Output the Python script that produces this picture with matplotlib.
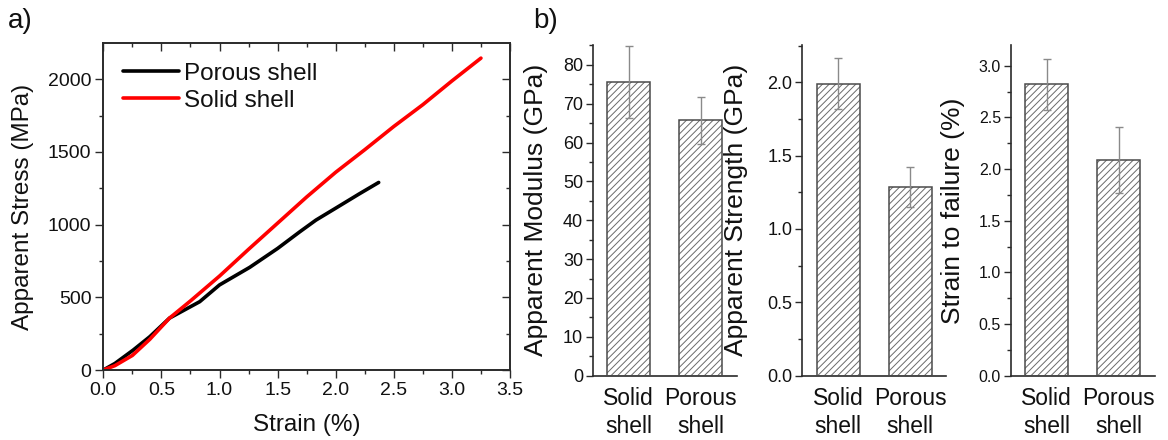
import matplotlib
matplotlib.use("Agg")
import matplotlib.pyplot as plt
from matplotlib.ticker import MultipleLocator, FormatStrFormatter
import numpy as np

plt.rcParams['font.family'] = ['Liberation Sans', 'DejaVu Sans']
plt.rcParams['hatch.linewidth'] = 0.7

# ---- Panel a data: stress-strain curves ----
porous_strain = [0.0, 0.1, 0.257, 0.4, 0.57, 0.83, 1.0, 1.26, 1.5, 1.69, 1.83, 2.0, 2.2, 2.37]
porous_stress = [0, 45, 137, 229, 357, 470, 585, 706, 836, 950, 1031, 1113, 1210, 1290]
solid_strain = [0.0, 0.1, 0.25, 0.4, 0.57, 0.75, 1.0, 1.25, 1.5, 1.75, 2.0, 2.25, 2.5, 2.75, 3.0, 3.25]
solid_stress = [0, 30, 100, 211, 357, 475, 646, 830, 1010, 1190, 1360, 1515, 1675, 1825, 1988, 2145]

# ---- Panel b data: bar charts ----
categories = ["Solid\nshell", "Porous\nshell"]
modulus = [75.6, 65.7]
modulus_err = [9.2, 6.1]
strength = [1.99, 1.285]
strength_err = [0.175, 0.135]
strain_fail = [2.82, 2.09]
strain_fail_err = [0.245, 0.32]

W, H = 1168, 440
fig = plt.figure(figsize=(W / 100, H / 100), dpi=100)

def fx(px):
    return px / W

def fy(py):
    return 1 - py / H

spine_col = '#2a2a2a'
text_col = '#111111'

# ---------------- Panel a ----------------
rect_a = [fx(103.3), fy(370), fx(510 - 103.3), (370 - 43.3) / H]
axa = fig.add_axes(rect_a)
axa.plot(porous_strain, porous_stress, color='black', lw=2.6, label='Porous shell', solid_capstyle='round')
axa.plot(solid_strain, solid_stress, color='#ff0000', lw=2.6, label='Solid shell', solid_capstyle='round')
axa.set_xlim(0, 3.5)
axa.set_ylim(0, 2247)
axa.xaxis.set_major_locator(MultipleLocator(0.5))
axa.xaxis.set_minor_locator(MultipleLocator(0.25))
axa.yaxis.set_major_locator(MultipleLocator(500))
axa.yaxis.set_minor_locator(MultipleLocator(250))
axa.xaxis.set_major_formatter(FormatStrFormatter('%.1f'))
axa.tick_params(which='both', direction='out', bottom=True, left=True, top=False, right=False,
                color=spine_col, width=1.0, labelsize=14, labelcolor=text_col, pad=3)
axa.tick_params(which='major', length=5.5)
axa.tick_params(which='minor', length=3.2)

# overlay axes: full frame plus inward ticks on top & right
axo = fig.add_axes(rect_a, label='frame_overlay', sharex=axa, sharey=axa, zorder=5)
axo.patch.set_alpha(0.0)
for name, s in axo.spines.items():
    s.set_visible(True)
    s.set_color(spine_col)
    s.set_linewidth(1.2)
for name, s in axa.spines.items():
    s.set_visible(True)
    s.set_color(spine_col)
    s.set_linewidth(1.2)
axo.tick_params(which='both', direction='in', bottom=False, left=False, top=True, right=True,
                labelbottom=False, labelleft=False, labeltop=False, labelright=False,
                color=spine_col, width=1.0)
axo.tick_params(which='major', length=5.5)
axo.tick_params(which='minor', length=3.2)

axa.set_xlabel('Strain (%)', fontsize=17.5, color=text_col)
axa.set_ylabel('Apparent Stress (MPa)', fontsize=17.5, color=text_col)
axa.xaxis.set_label_coords(0.5, -0.135)
axa.yaxis.set_label_coords(-0.17, 0.5)
leg = axa.legend(loc='upper left', bbox_to_anchor=(0.0, 1.0), frameon=False, fontsize=17.5,
                 handlelength=2.3, handletextpad=0.22, labelspacing=0.2, borderaxespad=0.4)
for t in leg.get_texts():
    t.set_color(text_col)

fig.text(fx(8), fy(21), 'a)', fontsize=20, color=text_col, va='center', ha='left')
fig.text(fx(533), fy(21), 'b)', fontsize=20, color=text_col, va='center', ha='left')

# ---------------- Panel b ----------------
def bar_panel(left_px, values, errs, ylim, major, minor, ylabel, fmt, labsize, ylab_x):
    ax = fig.add_axes([fx(left_px), fy(375.7), 144 / W, (375.7 - 45) / H])
    x = np.arange(1, len(values) + 1)
    ax.bar(x, values, width=0.6, color='white', edgecolor='#6a6a6a', hatch='/////', linewidth=0, zorder=2)
    ax.bar(x, values, width=0.6, fill=False, edgecolor='#4a4a4a', linewidth=1.1, zorder=3)
    ax.errorbar(x, values, yerr=errs, fmt='none', ecolor='#8a8a8a', elinewidth=1.0, capsize=3.2,
                capthick=1.0, zorder=4)
    ax.set_xlim(0.5, 2.5)
    ax.set_ylim(*ylim)
    ax.set_xticks(x)
    ax.set_xticklabels(categories, fontsize=16.5, linespacing=1.3, color=text_col)
    ax.yaxis.set_major_locator(MultipleLocator(major))
    ax.yaxis.set_minor_locator(MultipleLocator(minor))
    ax.yaxis.set_major_formatter(FormatStrFormatter(fmt))
    ax.spines['top'].set_visible(False)
    ax.spines['right'].set_visible(False)
    for s in ('left', 'bottom'):
        ax.spines[s].set_color(spine_col)
        ax.spines[s].set_linewidth(1.2)
    ax.tick_params(axis='x', length=0, pad=8)
    ax.tick_params(axis='y', which='both', direction='out', color=spine_col, width=1.0,
                   labelsize=labsize, labelcolor=text_col, pad=2)
    ax.tick_params(axis='y', which='major', length=5)
    ax.tick_params(axis='y', which='minor', length=3)
    ax.set_ylabel(ylabel, fontsize=19, color=text_col)
    ax.yaxis.set_label_coords(ylab_x, 0.5)
    return ax

bar_panel(592.7, modulus, modulus_err, (0, 85.1), 10, 5, 'Apparent Modulus (GPa)', '%d', 13, -0.31)
bar_panel(802.3, strength, strength_err, (0, 2.254), 0.5, 0.25, 'Apparent Strength (GPa)', '%.1f', 13, -0.38)
bar_panel(1010.7, strain_fail, strain_fail_err, (0, 3.2), 0.5, 0.25, 'Strain to failure (%)', '%.1f', 11.5, -0.315)

fig.savefig('out.png', dpi=100)
